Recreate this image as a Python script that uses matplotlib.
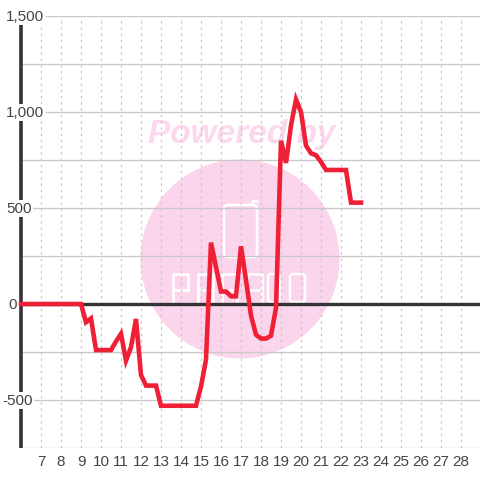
import matplotlib
matplotlib.use("Agg")
import matplotlib.pyplot as plt
from matplotlib.patches import Circle, FancyBboxPatch

days = [6, 9, 9.25, 9.5, 9.75, 10.5, 10.75, 11, 11.25, 11.5, 11.75, 12, 12.25, 12.75, 13,
        14.75, 15, 15.25, 15.5, 16, 16.25, 16.5, 16.75, 17, 17.25, 17.5, 17.75, 18, 18.25,
        18.5, 18.75, 19, 19.25, 19.5, 19.75, 20, 20.25, 20.5, 20.75, 21, 21.25, 22.25, 22.5, 23]
values = [0, 0, -95, -75, -240, -240, -195, -155, -295, -225, -78, -370, -425, -425, -530,
          -530, -430, -290, 320, 65, 65, 40, 40, 300, 125, -60, -160, -180, -180,
          -165, -20, 850, 735, 930, 1065, 1000, 825, 785, 775, 740, 698, 698, 528, 528]
x_ticks = list(range(7, 29))
y_major = [1500, 1000, 500, 0, -500]
y_major_labels = ["1,500", "1,000", "500", "0", "-500"]
y_label_px = [6, 6, 6, 8, 2]
y_grid = [1500, 1250, 1000, 750, 500, 250, -250, -500, -750]

W = H = 480
fig = plt.figure(figsize=(4.8, 4.8), dpi=100, facecolor="white")
plt.rcParams["font.family"] = ["Liberation Sans", "DejaVu Sans"]
ax = fig.add_axes([20 / W, (H - 448) / H, 460 / W, 432 / H])
ax.set_xlim(5.95, 28.95)
ax.set_ylim(-750, 1500)
for s in ["top", "right", "bottom", "left"]:
    ax.spines[s].set_visible(False)
ax.tick_params(length=0)
ax.set_yticks([])
ax.set_xticks(x_ticks)
ax.set_xticklabels([str(t) for t in x_ticks], fontsize=11, color="#444444")
ax.tick_params(axis="x", pad=5)

# watermark (full-figure pixel overlay, beneath the grid)
bg = fig.add_axes([0, 0, 1, 1], zorder=-1)
bg.set_xlim(0, W)
bg.set_ylim(H, 0)
bg.axis("off")
ax.patch.set_alpha(0)
pink = "#fbd5ec"
bg.add_patch(Circle((240, 259), 99.5, fc=pink, ec="none"))
bg.text(242, 134, "Powered by", fontsize=24, fontweight="bold", fontstyle="italic",
        color="#fcd8ee", ha="center", va="center")
bg.add_patch(FancyBboxPatch((224, 205), 33, 52, boxstyle="round,pad=0,rounding_size=4",
                            fc="none", ec="white", lw=1.8))
bg.plot([252, 252, 257], [205, 201, 201], color="white", lw=1.8, solid_capstyle="round")
glyph_left = [173, 198, 222, 247, 268, 290]
for i, gx in enumerate(glyph_left):
    gw = 15 if i != 4 else 12
    if i >= 4:
        bg.add_patch(FancyBboxPatch((gx, 274), gw, 28, boxstyle="round,pad=0,rounding_size=3",
                                    fc="none", ec="white", lw=1.8))
    else:
        bg.plot([gx, gx, gx + gw, gx + gw], [303, 274, 274, 290 if i == 0 else 303],
                color="white", lw=1.8, solid_joinstyle="round")
        bg.plot([gx, gx + gw], [290, 290], color="white", lw=1.8)

ax.vlines(x_ticks, -750, 1500, color="#c8c8c8", lw=0.9, linestyles=(0, (2, 3)), zorder=1)
ax.hlines(y_grid, 5.95, 28.95, color="#c8c8c8", lw=0.95, zorder=1)
ax.axhline(0, color="#333333", lw=2.4, zorder=2)
ax.vlines(6.0, -750, 1460, color="#333333", lw=2.6, zorder=2, clip_on=False)
ax.plot(days, values, color="#ef1f36", lw=3.3, solid_joinstyle="miter", zorder=3, clip_on=False)

for v, lab, px in zip(y_major, y_major_labels, y_label_px):
    ax.annotate(lab, xy=(0, v), xycoords=("figure pixels", "data"), xytext=(px * 0.72, -0.6),
                textcoords="offset points", fontsize=11, color="#444444", va="center", ha="left",
                zorder=5, bbox=dict(fc="white", ec="none", pad=1.0), annotation_clip=False)

fig.savefig("out.png", dpi=100)
